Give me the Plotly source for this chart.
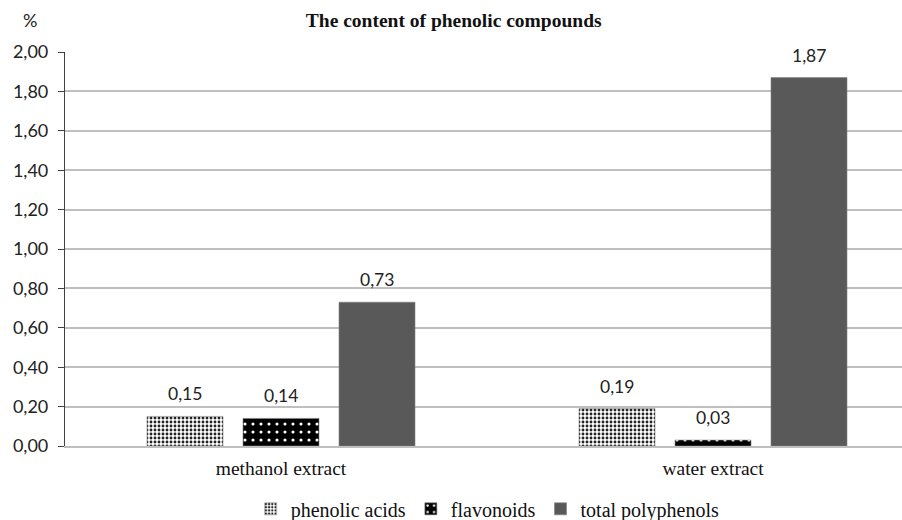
import plotly.graph_objects as go

categories = ["methanol extract", "water extract"]
series_names = ["phenolic acids", "flavonoids", "total polyphenols"]
phenolic_acids = [0.15, 0.19]
flavonoids = [0.14, 0.03]
total_polyphenols = [0.73, 1.87]
y_ticks = [0, 0.2, 0.4, 0.6, 0.8, 1.0, 1.2, 1.4, 1.6, 1.8, 2.0]

values = [phenolic_acids, flavonoids, total_polyphenols]
x_pos = list(range(len(categories)))

SANS = "Lato, Open Sans, sans-serif"
SERIF = "Liberation Serif, Times New Roman, serif"

styles = [
    dict(color="white", pattern=dict(shape=".", fgcolor="#222222", bgcolor="white", size=4, solidity=0.4, fillmode="replace")),
    dict(color="black", pattern=dict(shape=".", fgcolor="white", bgcolor="black", size=8, solidity=0.12, fillmode="replace")),
    dict(color="#595959"),
]

fig = go.Figure()
for name, vals, st in zip(series_names, values, styles):
    fig.add_trace(go.Bar(
        name=name, x=x_pos, y=vals,
        marker=dict(line=dict(width=0.6, color="#7f7f7f"), **st),
    ))

bargap = 1 / 3
groupgap = 20 / 96
slot = (1 - bargap) / len(series_names)
for j, vals in enumerate(values):
    for i, v in enumerate(vals):
        fig.add_annotation(
            x=i + (j - (len(series_names) - 1) / 2) * slot, y=v,
            text=f"{v:.2f}".replace(".", ","), showarrow=False,
            yanchor="bottom", yshift=10,
            font=dict(family=SANS, size=17.5, color="#222"),
        )

fig.add_annotation(
    text="%", xref="paper", yref="paper", x=-0.042, y=1.08, showarrow=False,
    xanchor="center", yanchor="middle",
    font=dict(family=SANS, size=18, color="#222"),
)

fig.update_layout(
    width=902, height=520,
    margin=dict(l=65, r=0, t=52, b=74, autoexpand=False),
    paper_bgcolor="white", plot_bgcolor="white",
    separators=",.",
    barmode="group", bargap=bargap, bargroupgap=groupgap,
    title=dict(text="<b>The content of phenolic compounds</b>", x=0.503, xanchor="center",
               y=0.962, yanchor="middle",
               font=dict(family=SERIF, size=19.5, color="#111")),
    showlegend=True,
    legend=dict(orientation="h", x=0.505, xanchor="center", y=-0.11, yanchor="top",
                font=dict(family=SERIF, size=20, color="#111"),
                itemwidth=30, tracegroupgap=0),
    xaxis=dict(
        range=[-0.5, -0.5 + 837 / 432],
        tickvals=x_pos, ticktext=categories, ticks="",
        showline=True, linecolor="#bfbfbf", linewidth=1.5,
        showgrid=False, zeroline=False,
        tickfont=dict(family=SERIF, size=19.5, color="#111"),
        ticklabelstandoff=4,
    ),
    yaxis=dict(
        range=[0, 2.0], tickvals=y_ticks, tickformat=".2f",
        showline=True, linecolor="#404040", linewidth=1.2,
        ticks="outside", ticklen=6, tickcolor="#404040",
        showgrid=True, gridcolor="#bfbfbf", gridwidth=1.5,
        zeroline=False,
        tickfont=dict(family=SANS, size=18, color="#222"),
        ticklabelstandoff=6,
    ),
)

fig.write_html("out.html", config={"displayModeBar": False},
               post_script="document.body.style.margin='0px';")
